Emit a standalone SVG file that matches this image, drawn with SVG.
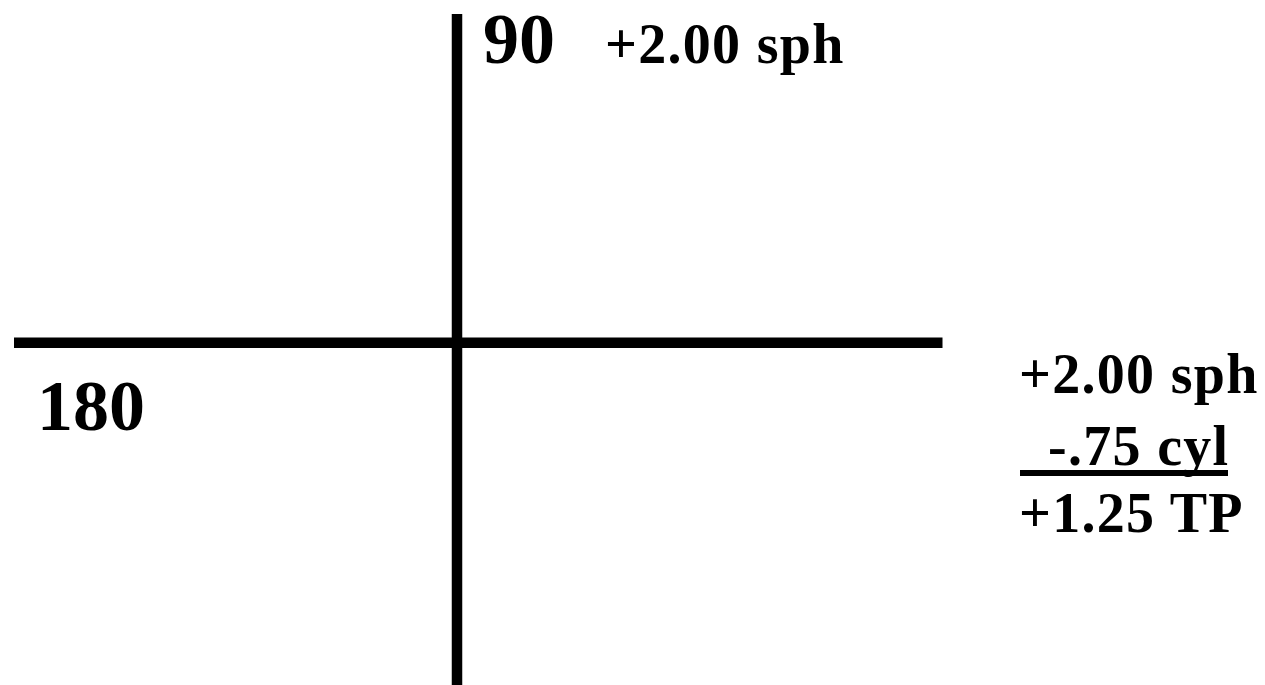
<svg xmlns="http://www.w3.org/2000/svg" width="1265" height="685" viewBox="0 0 1265 685">
<style>
.t{font-family:"Liberation Serif","Times New Roman",serif;font-weight:bold;fill:#000}
.big{font-size:72px}
.mid{font-size:56px;letter-spacing:1.3px}
.ax{stroke:#000;stroke-width:10.5;fill:none}
</style>
<rect width="1265" height="685" fill="#fff"/>
<g id="connectors">
<line class="ax" x1="457" y1="14" x2="457" y2="685"/>
<line class="ax" x1="14" y1="342.7" x2="942.5" y2="342.7"/>
<line x1="1020" y1="473" x2="1228" y2="473" stroke="#000" stroke-width="6"/>
</g>
<g id="label-90"><text class="t big" x="483" y="63">90</text></g>
<g id="label-top-sph"><text class="t mid" x="605" y="63">+2.00 sph</text></g>
<g id="label-180"><text class="t big" x="37" y="430">180</text></g>
<g id="label-right">
<text class="t mid" x="1019" y="393">+2.00 sph</text>
<text class="t mid" x="1048" y="465">-.75 cyl</text>
<text class="t mid" x="1019" y="532">+1.25 TP</text>
</g>
</svg>
